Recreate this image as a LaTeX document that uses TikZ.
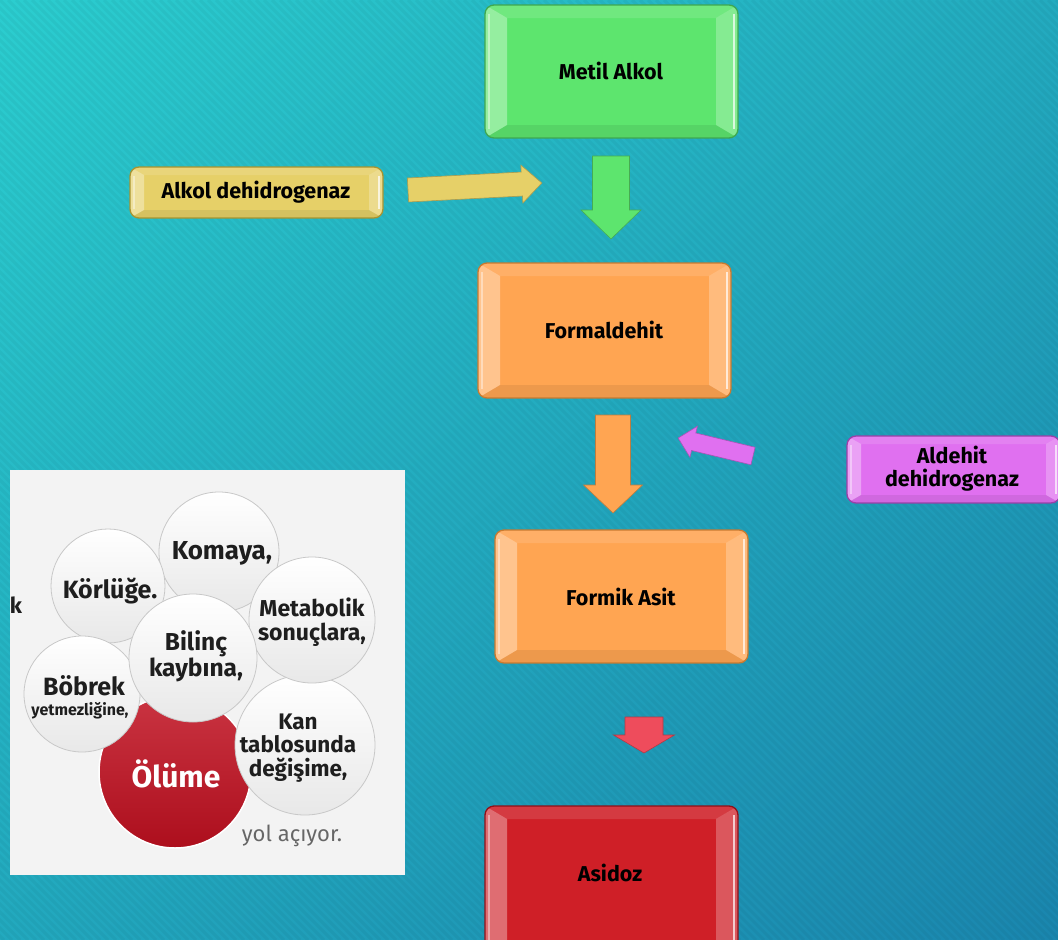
\documentclass[tikz,border=0pt]{standalone}
\usepackage{fontspec}
\setmainfont{Fira Sans}
\usetikzlibrary{calc}
\definecolor{bgA}{HTML}{2BCDCF}
\definecolor{bgB}{HTML}{1A86AE}
\definecolor{gFill}{HTML}{5DE56E}
\definecolor{gLine}{HTML}{3FA850}
\definecolor{yFill}{HTML}{E6D068}
\definecolor{yLine}{HTML}{A89430}
\definecolor{oFill}{HTML}{FFA552}
\definecolor{oLine}{HTML}{C87A30}
\definecolor{pFill}{HTML}{E070F0}
\definecolor{pLine}{HTML}{9A40A8}
\definecolor{rFill}{HTML}{CF1F27}
\definecolor{rLine}{HTML}{901018}
\definecolor{rArrow}{HTML}{EE4C5C}
\definecolor{photoBg}{HTML}{F3F3F3}
\definecolor{circEdge}{HTML}{C8C8C8}
\definecolor{deathRed}{HTML}{C01020}
\definecolor{inkDark}{HTML}{1E1E1E}
% bevelled box: x1 y1 x2 y2 fill border insetx insety
\newcommand{\bevbox}[8]{%
  \begin{scope}
    \clip[rounded corners=9] (#1,#2) rectangle (#3,#4);
    \fill[#5] (#1,#2) rectangle (#3,#4);
    \fill[white,opacity=.35] (#1,#2) -- ({#1+#7},{#2+#8}) -- ({#1+#7},{#4-#8}) -- (#1,#4) -- cycle;
    \fill[white,opacity=.25] (#3,#2) -- ({#3-#7},{#2+#8}) -- ({#3-#7},{#4-#8}) -- (#3,#4) -- cycle;
    \fill[white,opacity=.12] (#1,#2) -- ({#1+#7},{#2+#8}) -- ({#3-#7},{#2+#8}) -- (#3,#2) -- cycle;
    \fill[black,opacity=.07] (#1,#4) -- ({#1+#7},{#4-#8}) -- ({#3-#7},{#4-#8}) -- (#3,#4) -- cycle;
    \draw[white,opacity=.7,line width=2.5] ({#3-4},{#2+9}) -- ({#3-4},{#4-9});
    \draw[white,opacity=.4,line width=2] ({#1+4},{#2+9}) -- ({#1+4},{#4-9});
  \end{scope}
  \draw[#6,line width=1.3,rounded corners=9] (#1,#2) rectangle (#3,#4);
}
% block arrow: tail x, tail y, angle, length, shaft half, head half, head length, fill
\newcommand{\blockarrow}[8]{%
  \begin{scope}[shift={(#1,#2)},rotate=#3]
    \fill[#8,draw=#8!75!black,line width=.6]
      (0,-#5) -- ({#4-#7},-#5) -- ({#4-#7},-#6) -- (#4,0) -- ({#4-#7},#6) -- ({#4-#7},#5) -- (0,#5) -- cycle;
  \end{scope}
}
\tikzset{
  boxtext/.style={font=\bfseries\fontsize{21.5}{24}\selectfont,text=black,align=center,inner sep=0pt},
  bubtext/.style={font=\bfseries\fontsize{25}{23}\selectfont,text=inkDark,align=center,inner sep=0pt},
  bubble/.style={top color=white,bottom color=gray!18,draw=circEdge,line width=.8},
}
\begin{document}
\begin{tikzpicture}[x=1pt,y=-1pt]
\useasboundingbox (0,0) rectangle (1058,940);
% background
\shade[shading=axis,top color=bgA,bottom color=bgB,shading angle=40] (-200,-200) rectangle (1258,1140);
\begin{scope}
  \clip (0,0) rectangle (1058,940);
  \foreach \i in {-960,-952,...,1060} {
    \draw[black,opacity=.035,line width=3] (\i,0) -- ({\i+940},940);
  }
\end{scope}

% main boxes
\bevbox{485}{5}{738}{138}{gFill}{gLine}{22}{13}
\node[boxtext] (metil) at (611,71) {Metil Alkol};

\bevbox{130}{167}{383}{218}{yFill}{yLine}{14}{8}
\node[boxtext] (adh) at (256,192) {Alkol dehidrogenaz};

\bevbox{478}{263}{731}{398}{oFill}{oLine}{22}{13}
\node[boxtext] (form) at (604,330) {Formaldehit};

\bevbox{847}{436}{1060}{503}{pFill}{pLine}{14}{8}
\node[boxtext,font=\bfseries\fontsize{21.5}{23}\selectfont] (aldh) at (952,469) {Aldehit\\dehidrogenaz};

\bevbox{495}{530}{748}{663}{oFill}{oLine}{22}{13}
\node[boxtext] (formik) at (621,597) {Formik Asit};

\bevbox{485}{806}{738}{960}{rFill}{rLine}{22}{13}
\node[boxtext] (asidoz) at (610,873) {Asidoz};

% block arrows
\blockarrow{408}{190}{3}{134}{12}{19}{20}{yFill}
\blockarrow{611}{156}{-90}{83}{18.5}{30}{29}{gFill}
\blockarrow{613}{415}{-90}{98}{17.5}{29.5}{28}{oFill}
\blockarrow{753}{456}{166.5}{77}{9}{16}{16}{pFill}
\blockarrow{644}{717}{-90}{36}{19}{30.5}{18}{rArrow}

% photo
\begin{scope}
  \clip (10,470) rectangle (405,875);
  \fill[photoBg] (10,470) rectangle (405,875);
  \shade[top color=deathRed!85!white,bottom color=deathRed!90!black,draw=white,line width=1.5] (175,772) circle (76);
  \shade[bubble] (305,745) circle (70);
  \shade[bubble] (219,552) circle (60);
  \shade[bubble] (108,586) circle (57);
  \shade[bubble] (312,620) circle (63);
  \shade[bubble] (82,694) circle (58);
  \shade[bubble] (193,658) circle (64);
  \node[bubtext,font=\bfseries\fontsize{26}{26}\selectfont] (komaya) at (222,553) {Komaya,};
  \node[bubtext] (korluge) at (110,591) {Körlüğe.};
  \node[bubtext,font=\bfseries\fontsize{23}{24}\selectfont] (metab) at (312,622) {Metabolik\\sonuçlara,};
  \node[bubtext,font=\bfseries\fontsize{24.5}{25}\selectfont] (bilinc) at (196,656) {Bilinç\\kaybına,};
  \node[bubtext] (bobrek) at (84,686) {Böbrek};
  \node[font=\bfseries\fontsize{16}{16}\selectfont,text=inkDark,inner sep=0pt] (yetm) at (80,711) {yetmezliğine,};
  \node[bubtext,font=\bfseries\fontsize{22.5}{23.5}\selectfont] (kan) at (298,748) {Kan\\tablosunda\\değişime,};
  \node[font=\bfseries\fontsize{30}{31}\selectfont,text=white,inner sep=0pt] (olume) at (176,774) {Ölüme};
  \node[font=\fontsize{22}{24}\selectfont,text=gray!80!black,inner sep=0pt] (yol) at (292,836) {yol açıyor.};
  \node[font=\bfseries\fontsize{22}{24}\selectfont,text=inkDark,inner sep=0pt] (kfrag) at (16,605) {k};
\end{scope}
\end{tikzpicture}
\end{document}
